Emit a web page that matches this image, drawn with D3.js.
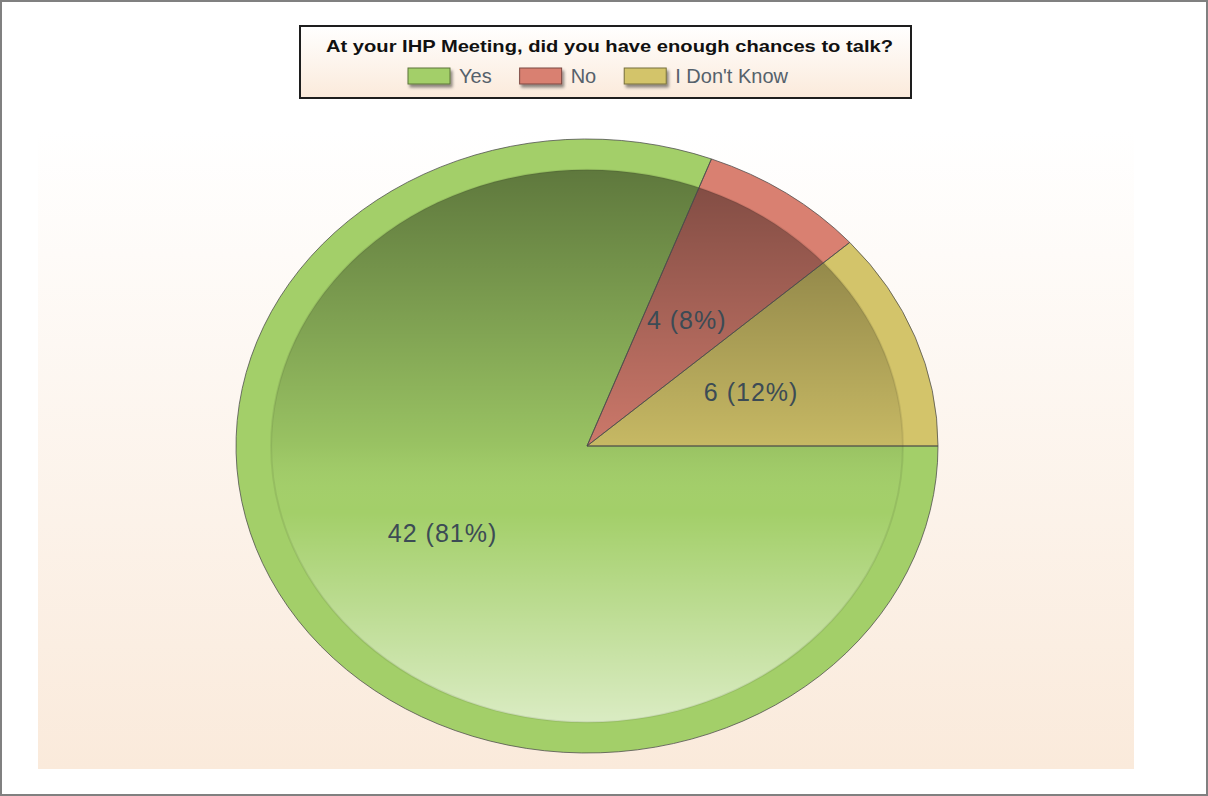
<!DOCTYPE html>
<html>
<head>
<meta charset="utf-8">
<script src="https://cdn.jsdelivr.net/npm/d3@7"></script>
<style>
  html, body { margin: 0; padding: 0; background: #fff; }
  svg { display: block; font-family: "Liberation Sans", Arial, sans-serif; }
</style>
</head>
<body>
<svg id="chart" width="1208" height="796"></svg>
<script>
// Donnees du graphique
const title = "At your IHP Meeting, did you have enough chances to talk?";
const categories = ["Yes", "No", "I Don't Know"];
const counts = [42, 4, 6];
const colors = ["#a3cf69", "#d98071", "#d3c46a"];

const W = 1208, H = 796;
const cx = 587, cy = 446;
const rx = 351, ry = 307;

const svg = d3.select("#chart");
const defs = svg.append("defs");

// Degrades
const bgGrad = defs.append("linearGradient")
  .attr("id", "bgGrad").attr("x1", 0).attr("y1", 0).attr("x2", 0).attr("y2", 1);
bgGrad.append("stop").attr("offset", 0).attr("stop-color", "#ffffff");
bgGrad.append("stop").attr("offset", 1).attr("stop-color", "#faeadb");

const legGrad = defs.append("linearGradient")
  .attr("id", "legGrad").attr("x1", 0).attr("y1", 0).attr("x2", 0).attr("y2", 1);
legGrad.append("stop").attr("offset", 0).attr("stop-color", "#ffffff");
legGrad.append("stop").attr("offset", 1).attr("stop-color", "#fbeadb");

const shade = defs.append("linearGradient")
  .attr("id", "shade").attr("gradientUnits", "userSpaceOnUse")
  .attr("x1", 0).attr("y1", -rx * 0.9).attr("x2", 0).attr("y2", rx * 0.9);
shade.append("stop").attr("offset", 0).attr("stop-color", "#000").attr("stop-opacity", 0.42);
shade.append("stop").attr("offset", 0.5).attr("stop-color", "#000").attr("stop-opacity", 0.06);
shade.append("stop").attr("offset", 0.62).attr("stop-color", "#fff").attr("stop-opacity", 0);
shade.append("stop").attr("offset", 1).attr("stop-color", "#fff").attr("stop-opacity", 0.6);

const shadow = defs.append("filter").attr("id", "shadow")
  .attr("x", "-20%").attr("y", "-30%").attr("width", "150%").attr("height", "190%");
shadow.append("feDropShadow").attr("dx", 2).attr("dy", 3).attr("stdDeviation", 1.5)
  .attr("flood-color", "#000").attr("flood-opacity", 0.45);

// Cadre exterieur
svg.append("rect")
  .attr("x", 1).attr("y", 1).attr("width", W - 2).attr("height", H - 2)
  .attr("fill", "#fff").attr("stroke", "#808080").attr("stroke-width", 2);

// Zone du graphique
svg.append("rect")
  .attr("x", 38).attr("y", 130).attr("width", 1096).attr("height", 639)
  .attr("fill", "url(#bgGrad)");

// Camembert
const pie = d3.pie().sort(null).value((d) => d)
  .startAngle(Math.PI / 2).endAngle(Math.PI / 2 + 2 * Math.PI);
const arcs = pie(counts);
const total = d3.sum(counts);
const fmtPct = d3.format(".0%");

const arcOuter = d3.arc().innerRadius(0).outerRadius(rx);

const g = svg.append("g")
  .attr("transform", "translate(" + cx + "," + cy + ") scale(1," + ry / rx + ")");

g.selectAll("path.slice")
  .data(arcs)
  .enter()
  .append("path")
  .attr("class", "slice")
  .attr("d", arcOuter)
  .attr("fill", (d, i) => colors[i]);

// Ombrage interieur
g.append("circle")
  .attr("r", rx * 0.9)
  .attr("fill", "url(#shade)");

g.append("circle")
  .attr("r", rx * 0.9)
  .attr("fill", "none")
  .attr("stroke", "#000").attr("stroke-opacity", 0.08)
  .attr("stroke-width", 2)
  .attr("vector-effect", "non-scaling-stroke");

// Contours des parts
g.selectAll("path.edge")
  .data(arcs)
  .enter()
  .append("path")
  .attr("class", "edge")
  .attr("d", arcOuter)
  .attr("fill", "none")
  .attr("stroke", "#4a4a4a").attr("stroke-opacity", 0.75)
  .attr("stroke-width", 1)
  .attr("vector-effect", "non-scaling-stroke");

// Etiquettes
svg.selectAll("text.lbl")
  .data(arcs)
  .enter()
  .append("text")
  .attr("class", "lbl")
  .attr("x", (d) => cx + arcOuter.centroid(d)[0])
  .attr("y", (d) => cy + arcOuter.centroid(d)[1] * ry / rx)
  .attr("text-anchor", "middle")
  .attr("dy", "0.36em")
  .style("font-size", "25px")
  .style("letter-spacing", "1px")
  .style("fill", "#3c4b55")
  .text((d) => d.value + " (" + fmtPct(d.value / total) + ")");

// Legende
svg.append("rect")
  .attr("x", 300).attr("y", 26).attr("width", 611).attr("height", 72)
  .attr("fill", "url(#legGrad)")
  .attr("stroke", "#1e1e1e").attr("stroke-width", 2);

svg.append("text")
  .attr("x", 609.5).attr("y", 52)
  .attr("text-anchor", "middle")
  .attr("textLength", 567).attr("lengthAdjust", "spacingAndGlyphs")
  .style("font-size", "17px").style("font-weight", "bold")
  .style("fill", "#111")
  .text(title);

let lx = 408;
categories.forEach((c, i) => {
  svg.append("rect")
    .attr("x", lx).attr("y", 68).attr("width", 42).attr("height", 16)
    .attr("fill", colors[i])
    .attr("stroke", d3.color(colors[i]).darker(1.6)).attr("stroke-width", 1)
    .attr("filter", "url(#shadow)");
  const t = svg.append("text")
    .attr("x", lx + 51).attr("y", 83)
    .style("font-size", "20px")
    .style("fill", "#55616b")
    .text(c);
  lx += 51 + t.node().getComputedTextLength() + 28;
});
</script>
</body>
</html>
